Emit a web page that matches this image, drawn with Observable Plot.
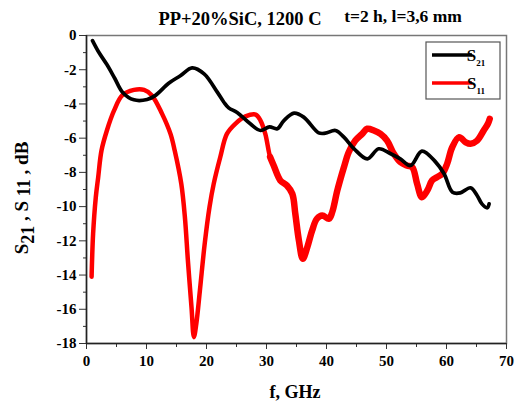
<!DOCTYPE html>
<html><head><meta charset="utf-8">
<script src="https://cdn.jsdelivr.net/npm/d3@7"></script>
<script src="https://cdn.jsdelivr.net/npm/@observablehq/plot@0.6"></script>
<style>body{margin:0;background:#fff}</style>
</head><body><div id="chart"></div>
<script>
const s21Freq = [1, 2, 3.4, 4.7, 6, 7.9, 10.1, 11.5, 13.7, 15.7, 17.6, 19.6, 21.8, 22.9, 23.7, 25.1, 27.3, 29, 30.5, 31.8, 32.9, 34.6, 36.2, 38.7, 39.8, 41.5, 42.9, 44.6, 46.8, 48.7, 50.7, 52.3, 54, 55.9, 58.2, 59.6, 61, 62.3, 64, 65.1, 65.9, 66.8, 67.1];
const s21Db = [-0.3, -0.95, -1.7, -2.5, -3.31, -3.76, -3.74, -3.5, -2.79, -2.34, -1.89, -2.24, -3.31, -3.9, -4.23, -4.5, -5.16, -5.55, -5.34, -5.45, -4.97, -4.54, -4.77, -5.69, -5.71, -5.55, -5.94, -6.62, -7.21, -6.62, -6.91, -7.21, -7.6, -6.76, -7.4, -8.08, -9.16, -9.2, -8.9, -9.35, -9.84, -10.07, -9.84];
const s11Freq = [0.85, 1.1, 1.55, 1.95, 2.5, 3.4, 4.6, 5.95, 7.9, 9.6, 10.9, 12.6, 14, 14.7, 15.8, 16.4, 16.9, 17.5, 17.9, 18.3, 18.9, 19.7, 20.5, 21.2, 22.3, 23.4, 24.8, 26.5, 28.2, 29, 29.8, 30.6, 31.2, 32.3, 33.4, 34.3, 34.8, 35.4, 36.05, 36.8, 37.6, 38.4, 39.3, 40.4, 40.95, 41.8, 42.9, 43.7, 44.8, 45.95, 46.8, 47.9, 49, 50.1, 51.2, 52.3, 53.4, 54.3, 55.1, 55.9, 56.8, 57.6, 58.4, 59.3, 60.1, 60.95, 62.1, 63.2, 64, 65.1, 66.2, 66.9, 67.2];
const s11Db = [-14.1, -11.6, -9.45, -8.28, -6.72, -5.55, -4.38, -3.5, -3.18, -3.18, -3.5, -4.58, -5.75, -6.72, -8.67, -10.62, -13.15, -15.88, -17.63, -16.85, -14.9, -12.17, -10.03, -8.67, -7.1, -5.75, -5.16, -4.73, -4.62, -4.97, -5.75, -7.1, -7.6, -8.47, -8.77, -9.25, -10.42, -11.98, -13.05, -12.37, -11.4, -10.71, -10.52, -10.71, -10.33, -9.06, -7.7, -6.82, -6.14, -5.75, -5.45, -5.55, -5.75, -6.14, -6.9, -7.4, -7.6, -7.7, -8.67, -9.45, -9.06, -8.47, -8.28, -8.08, -7.5, -6.53, -5.94, -6.24, -6.33, -6.14, -5.55, -5.16, -4.87];
const xTicks = [0, 10, 20, 30, 40, 50, 60, 70];
const xMinorTicks = [5, 15, 25, 35, 45, 55, 65];
const yTicks = [-18, -16, -14, -12, -10, -8, -6, -4, -2, 0];
const yMinorTicks = [-17, -15, -13, -11, -9, -7, -5, -3, -1];
const titleMain = "PP+20%SiC, 1200 C";
const titleCond = "t=2 h, l=3,6 mm";
const xLabel = "f, GHz";
const seriesNames = ["S", "S"];
const seriesSubs = ["21", "11"];
const seriesColors = ["#000000", "#ff0000"];
const noisyFrom = 30.6; // S11 trace is visibly noisier (thicker) above this frequency

const s21 = s21Freq.map((f, i) => ({f, db: s21Db[i]}));
const s11 = s11Freq.map((f, i) => ({f, db: s11Db[i]}));

const plot = Plot.plot({
  width: 517, height: 403,
  marginTop: 35, marginLeft: 86, marginRight: 11, marginBottom: 60,
  style: {fontFamily: "'Liberation Serif', serif", fontWeight: "bold", fontSize: "15px", background: "#fff", color: "#000"},
  x: {domain: [0, 70], label: null},
  y: {domain: [-18, 0], label: null},
  marks: [
    Plot.frame({stroke: "#777", strokeWidth: 1.5}),
    Plot.axisX(xMinorTicks, {tickSize: 4, tickFormat: () => "", label: null, stroke: "#333"}),
    Plot.axisX(xTicks, {tickSize: 6, tickPadding: 6, label: null, stroke: "#333", fontSize: 15}),
    Plot.axisY(yMinorTicks, {tickSize: 3, tickFormat: () => "", label: null, stroke: "#333"}),
    Plot.axisY(yTicks, {tickSize: 7, tickPadding: 3, label: null, stroke: "#333", fontSize: 15, tickFormat: d => String(d).replace("−", "-")}),
    Plot.ruleX([0], {stroke: "#222", strokeWidth: 1.5}),
    Plot.ruleY([-18], {stroke: "#222", strokeWidth: 1.5}),
    Plot.line(s11, {x: "f", y: "db", stroke: seriesColors[1], strokeWidth: 4.5, curve: "catmull-rom"}),
    Plot.line(s11.filter(d => d.f >= noisyFrom), {x: "f", y: "db", stroke: seriesColors[1], strokeWidth: 6.5, curve: "catmull-rom"}),
    Plot.line(s21, {x: "f", y: "db", stroke: seriesColors[0], strokeWidth: 3.7, curve: "catmull-rom"})
  ]
});
document.getElementById("chart").appendChild(plot);

const svg = d3.select(plot);
svg.attr("font-family", "'Liberation Serif', serif");
// title
svg.append("text").attr("x", 240).attr("y", 25).attr("text-anchor", "middle")
  .attr("font-size", 18.5).attr("font-weight", "bold").attr("fill", "#000").text(titleMain);
svg.append("text").attr("x", 403).attr("y", 22).attr("text-anchor", "middle")
  .attr("font-size", 17.5).attr("font-weight", "bold").attr("fill", "#000").text(titleCond);
// x label
svg.append("text").attr("x", 295).attr("y", 398).attr("text-anchor", "middle")
  .attr("font-size", 18).attr("font-weight", "bold").attr("fill", "#000").text(xLabel);
// y label
const yl = svg.append("text").attr("transform", "translate(28,198) rotate(-90)")
  .attr("text-anchor", "middle").attr("font-size", 19).attr("font-weight", "bold").attr("fill", "#000");
yl.append("tspan").text("S");
yl.append("tspan").attr("dy", 6).attr("font-size", 18).text("21");
yl.append("tspan").attr("dy", -6).text(" , S ");
yl.append("tspan").attr("dy", 2).attr("font-size", 18).text("11");
yl.append("tspan").attr("dy", -2).text(" , dB");
// legend
const lg = svg.append("g");
lg.append("rect").attr("x", 426).attr("y", 42).attr("width", 74).attr("height", 57)
  .attr("fill", "#fff").attr("stroke", "#555").attr("stroke-width", 1.2);
seriesNames.forEach((n, i) => {
  const y = 55 + i * 28;
  lg.append("line").attr("x1", 432).attr("x2", 472).attr("y1", y).attr("y2", y)
    .attr("stroke", seriesColors[i]).attr("stroke-width", 3.5);
  const t = lg.append("text").attr("x", 476).attr("y", y + 6).attr("font-size", 17)
    .attr("font-weight", "bold").attr("fill", "#000");
  t.append("tspan").text(n);
  t.append("tspan").attr("dy", 5).attr("font-size", 9).text(seriesSubs[i]);
});
</script></body></html>
